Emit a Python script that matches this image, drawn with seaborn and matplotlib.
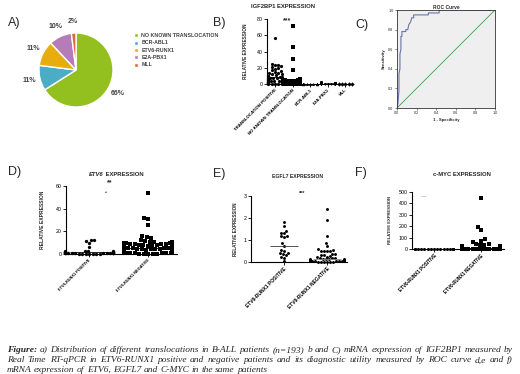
import warnings
import numpy as np
import pandas as pd
import matplotlib
matplotlib.use('Agg')
import matplotlib.pyplot as plt
import seaborn as sns

warnings.filterwarnings('ignore')

# ---- data ----
pie_names = ['NO KNOWN TRANSLOCATION', 'BCR-ABL1', 'ETV6-RUNX1', 'E2A-PBX1', 'MLL']
pie_values = [66, 11, 11, 10, 2]
pie_colors = ['#93c01f', '#4bacc6', '#e6ad0c', '#b67cb9', '#e0693a']

b_cats = ['TRANSLOCATION POSITIVE', 'NO KNOWN TRANSLOCATION', 'BCR-ABL1', 'E2A-PBX1', 'MLL']
b_trans_pos = [57, 25, 24, 23, 22, 21, 20, 19, 17, 16, 15, 14, 13, 12, 12, 11, 10, 10, 9, 9,
               8, 8, 7, 7, 7, 6, 6, 6, 5, 5, 5, 5, 4, 4, 4, 4, 3, 3, 3, 3, 3, 2, 2, 2, 2, 2, 2,
               1.5, 1.5, 1, 1, 1, 1, 1, 0.8, 0.5, 0.5, 0.3, 0.2, 0.1]
b_no_known = [72, 45, 31, 17, 6, 5.5, 5, 5, 4.5, 4, 4, 4, 3.5, 3.5, 3, 3, 3, 3, 2.5, 2.5, 2.5,
              2, 2, 2, 2, 2, 1.8, 1.5, 1.5, 1.5, 1.5, 1.2, 1.2, 1, 1, 1, 1, 1, 1, 0.9, 0.8, 0.8,
              0.7, 0.7, 0.6, 0.6, 0.5, 0.5, 0.5, 0.5, 0.4, 0.4, 0.4, 0.3, 0.3, 0.3, 0.3, 0.2, 0.2,
              0.2, 0.2, 0.2, 0.1, 0.1, 0.1, 0.1, 0.1, 0.05, 0.05, 0.05]
b_bcr = [0.6, 0.5, 0.4, 0.3, 0.3, 0.2, 0.2, 0.2, 0.1, 0.1, 0.1, 0.1, 0.05, 0.05, 0.05, 0.02,
         0.02, 0.01, 0.01, 0.01]
b_e2a = [2.2, 1.5, 1.2, 1.0, 0.8, 0.6, 0.5, 0.4, 0.3, 0.3, 0.2, 0.2, 0.1, 0.1, 0.05, 0.05, 0.02, 0.01]
b_mll = [0.3, 0.2, 0.1, 0.05, 0.02]
b_lines = [8.2, 3.3, 0.2, 0.5, 0.15]

roc_fpr = [0, 0.01, 0.02, 0.02, 0.03, 0.03, 0.04, 0.04, 0.05, 0.05, 0.09, 0.09, 0.11, 0.12,
           0.14, 0.15, 0.17, 0.17, 0.32, 0.32, 0.43, 0.43, 1.0]
roc_tpr = [0, 0.05, 0.18, 0.35, 0.40, 0.55, 0.60, 0.73, 0.73, 0.78, 0.78, 0.80, 0.80, 0.85,
           0.88, 0.92, 0.92, 0.95, 0.95, 0.97, 0.97, 1.0, 1.0]

etv_cats = ['ETV6-RUNX1 POSITIVE', 'ETV6-RUNX1 NEGATIVE']
d_pos = [12, 12, 11.5, 9.5, 6.5, 3, 3, 2.5, 2.5, 2, 2, 2, 1.5, 1.5, 1.5, 1.2, 1, 1, 1, 1, 1,
         0.8, 0.8, 0.6, 0.5, 0.5, 0.5, 0.4, 0.3, 0.3, 0.2, 0.2, 0.1, 0.1]
d_neg = [54, 32, 30.5, 25.5, 15.5, 15, 14, 12, 11.5, 11, 11, 10.5, 10, 10, 10, 9.5, 9, 9, 9,
         8.5, 8, 8, 8, 7.5, 7, 7, 7, 6.5, 6, 6, 6, 5.5, 5, 5, 5, 4.5, 4, 4, 4, 4, 3.5, 3, 3, 3,
         3, 2.5, 2.5, 2, 2, 2, 2, 1.5, 1.5, 1.5, 1, 1, 1, 1, 1, 0.8, 0.6, 0.5, 0.5, 0.4, 0.3,
         0.2, 0.1, 0.1]
d_lines = [2.0, 5.0]

e_pos = [1.8, 1.62, 1.4, 1.3, 1.3, 1.17, 1.17, 1.12, 0.85, 0.75, 0.55, 0.48, 0.4, 0.4, 0.35,
         0.3, 0.22, 0.2, 0.03]
e_neg = [2.4, 1.9, 1.2, 0.85, 0.72, 0.58, 0.55, 0.52, 0.5, 0.5, 0.48, 0.36, 0.35, 0.33, 0.3,
         0.28, 0.25, 0.22, 0.2, 0.18, 0.16, 0.15, 0.14, 0.13, 0.12, 0.12, 0.11, 0.1, 0.1, 0.09,
         0.08, 0.08, 0.07, 0.07, 0.06, 0.06, 0.05, 0.05, 0.05, 0.04, 0.04, 0.03, 0.03, 0.03,
         0.02, 0.02, 0.02, 0.01, 0.01, 0.01]
e_lines = [0.72, 0.15]

f_pos = [4, 3, 3, 2, 2, 2, 1.5, 1, 1, 1, 0.5, 0.5, 0.5, 0.3, 0.2, 0.1]
f_neg = [448, 190, 168, 85, 72, 62, 45, 40, 38, 35, 30, 28, 25, 22, 20, 18, 15, 14, 12, 12, 10,
         10, 9, 8, 8, 7, 6, 6, 5, 5, 5, 4, 4, 4, 3, 3, 3, 2, 2, 2, 2, 1, 1, 1, 1, 0.5, 0.5, 0.5,
         0.2, 0.2]
f_lines = [1.0, 10.0]

caption_lines = [
    "Figure: a) Distribution of different translocations in B-ALL patients (n=193) b and C) mRNA expression of IGF2BP1 measured by",
    "Real Time RT-qPCR in ETV6-RUNX1 positive and negative patients and its diagnostic utility measured by ROC curve d,e and f)",
    "mRNA expression of ETV6, EGFL7 and C-MYC in the same patients",
]

# ---- figure ----
sns.set_theme(style='ticks')
plt.rcParams['font.family'] = ['Liberation Sans', 'DejaVu Sans']

W, H = 520, 374
fig = plt.figure(figsize=(W / 100, H / 100), dpi=100)
fig.patch.set_facecolor('white')


def px_axes(x0, y0, x1, y1):
    return fig.add_axes([x0 / W, 1 - y1 / H, (x1 - x0) / W, (y1 - y0) / H])


def ftext(x, y, s, **kw):
    return fig.text(x / W, 1 - y / H, s, **kw)


def chunks_centered(xc, y, chunks, size):
    r = fig.canvas.get_renderer()
    ts = [ftext(0, y, s, fontsize=size, weight='bold', style=st, va='center', ha='left')
          for s, st in chunks]
    ws = [t.get_window_extent(r).width for t in ts]
    x = xc - sum(ws) / 2
    for t, w in zip(ts, ws):
        t.set_x(x / W)
        x += w


def scatter_panel(rect, cats, groups, markers, sizes, lines, line_colors, xlim, ylim, yticks,
                  ylab_x, tick_fs, ylab_fs):
    ax = px_axes(*rect)
    for name, vals, mk, sz in zip(cats, groups, markers, sizes):
        df = pd.DataFrame({'group': name, 'value': vals})
        sns.swarmplot(data=df, x='group', y='value', order=cats, marker=mk, size=sz,
                      color='black', linewidth=0, ax=ax, clip_on=False)
    for i, (lv, lc) in enumerate(zip(lines, line_colors)):
        ax.hlines(lv, i - 0.33, i + 0.33, color=lc, lw=0.6, zorder=5, clip_on=False)
    ax.set_xlim(xlim)
    ax.set_ylim(ylim)
    ax.set_yticks(yticks)
    sns.despine(ax=ax)
    for s in ['left', 'bottom']:
        ax.spines[s].set_linewidth(0.8)
        ax.spines[s].set_color('black')
    ax.tick_params(length=2, width=0.6, labelsize=3.8, pad=1, colors='black')
    ax.set_xticks(range(len(cats)))
    ax.set_xticklabels(cats, rotation=45, ha='right', rotation_mode='anchor',
                       fontsize=tick_fs, weight='bold')
    ax.set_xlabel('')
    ax.set_ylabel('RELATIVE EXPRESSION', fontsize=ylab_fs, weight='bold')
    ax.yaxis.set_label_coords((ylab_x - rect[0]) / (rect[2] - rect[0]), 0.5)
    ax.set_facecolor('none')
    return ax


# A) pie
ax_pie = px_axes(39, 33, 113, 107)
wedges, _, pct = ax_pie.pie(pie_values, colors=pie_colors, startangle=90, counterclock=False,
                            autopct='%1.0f%%', pctdistance=1.3,
                            textprops=dict(fontsize=5, weight='bold', color='#404040'))
ax_pie.set_xlim(-1, 1)
ax_pie.set_ylim(-1, 1)
ax_pie.set_aspect('equal')
ax_pie.legend(wedges, pie_names, loc='upper left', bbox_to_anchor=(134 / W, 1 - 33 / H),
              bbox_transform=fig.transFigure, frameon=False,
              prop=dict(size=3.8, weight='bold'), labelcolor='#404040',
              handlelength=0.8, handleheight=0.8, handletextpad=0.6, labelspacing=0.45,
              borderaxespad=0, borderpad=0)

# B) IGF2BP1
ax_b = scatter_panel((267, 19, 352, 84), b_cats,
                     [b_trans_pos, b_no_known, b_bcr, b_e2a, b_mll],
                     ['o', 's', '^', 'v', 'D'], [2.3, 2.6, 2.2, 2.2, 2.2],
                     b_lines, ['black'] * 5, (-0.45, 4.38), (0, 80), [0, 20, 40, 60, 80],
                     248, 3.2, 3.4)
ax_b.text(0.7, 78, '***', ha='center', va='center', fontsize=5, weight='bold', clip_on=False)
ftext(283, 6, 'IGF2BP1 EXPRESSION', fontsize=4.2, weight='bold', ha='center', va='center')

# C) ROC
ax_c = px_axes(397, 10, 495, 108)
ax_c.set_facecolor('#efefef')
sns.lineplot(x=roc_fpr, y=roc_tpr, sort=False, estimator=None, color='#6a74a6', lw=0.8, ax=ax_c)
ax_c.axline((0, 0), slope=1, color='#3f9a55', lw=0.6)
ax_c.set_xlim(0, 1)
ax_c.set_ylim(0, 1)
ticks = np.arange(0, 1.01, 0.2)
ax_c.set_xticks(ticks)
ax_c.set_yticks(ticks)
ax_c.set_xticklabels([f'{t:.1f}' for t in ticks])
ax_c.set_yticklabels([f'{t:.1f}' for t in ticks])
ax_c.tick_params(length=1.5, width=0.4, labelsize=2.7, pad=1)
for s in ax_c.spines.values():
    s.set_linewidth(0.6)
    s.set_color('#333333')
ax_c.set_title('ROC Curve', fontsize=3.5, weight='bold', pad=1)
ax_c.set_xlabel('1 - Specificity', fontsize=3, weight='bold', labelpad=1.5)
ax_c.set_ylabel('Sensitivity', fontsize=3, weight='bold', labelpad=1.5)

# D) ETV6
ax_d = scatter_panel((66, 186, 177, 254), etv_cats, [d_pos, d_neg], ['o', 's'], [2.4, 3.1],
                     d_lines, ['black', 'black'], (-0.39, 1.49), (0, 60), [0, 20, 40, 60],
                     45, 2.8, 3.6)
ax_d.text(0.35, 63, '**', ha='center', va='center', fontsize=5, weight='bold', clip_on=False)
ax_d.text(0.29, 54, '\u2022', ha='center', va='center', fontsize=4, clip_on=False)
chunks_centered(116, 174, [('ETV6', 'italic'), (' EXPRESSION', 'normal')], 4.2)

# E) EGFL7
ax_e = scatter_panel((251, 196, 347, 262), etv_cats, [e_pos, e_neg], ['o', 'o'], [2.1, 2.1],
                     e_lines, ['#333333', '#888888'], (-0.77, 1.47), (0, 3), [0, 1, 2, 3],
                     238, 3.5, 3.3)
ax_e.text(0.42, 3.12, '***', ha='center', va='center', fontsize=4, weight='bold', clip_on=False)
ftext(298, 176, 'EGFL7 EXPRESSION', fontsize=3.7, weight='bold', ha='center', va='center')

# F) c-MYC
ax_f = scatter_panel((412, 192, 504, 249), etv_cats, [f_pos, f_neg], ['o', 's'], [2.2, 2.9],
                     f_lines, ['black', 'black'], (-0.47, 1.49), (0, 500),
                     [0, 100, 200, 300, 400, 500], 392, 3.3, 3.0)
ax_f.text(-0.23, 455, '\u2014', ha='center', va='center', fontsize=4, color='#888888',
          clip_on=False)
ftext(462, 174, 'c-MYC EXPRESSION', fontsize=4.2, weight='bold', ha='center', va='center')

# panel letters
for lab, x, y in [('A)', 8, 23), ('B)', 213, 23), ('C)', 355, 25),
                  ('D)', 8, 172), ('E)', 213, 174), ('F)', 355, 173)]:
    ftext(x, y, lab, fontsize=9, ha='left', va='center')

# caption, justified like the source
renderer = fig.canvas.get_renderer()
x0, x1 = 7, 513
for i, (line, y) in enumerate(zip(caption_lines, [350, 360.5, 370])):
    words = line.split(' ')
    ts = [ftext(0, y, w, fontsize=6.8, family='Liberation Serif', style='italic',
                weight='bold' if w == 'Figure:' else 'normal', ha='left', va='center')
          for w in words]
    ws = [t.get_window_extent(renderer).width for t in ts]
    if i < 2:
        gap = (x1 - x0 - sum(ws)) / (len(words) - 1)
    else:
        gap = 6.8 * 0.25 * 100 / 72
    x = x0
    for t, w in zip(ts, ws):
        t.set_x(x / W)
        x += w + gap

fig.savefig('out.png', dpi=100, facecolor='white')
